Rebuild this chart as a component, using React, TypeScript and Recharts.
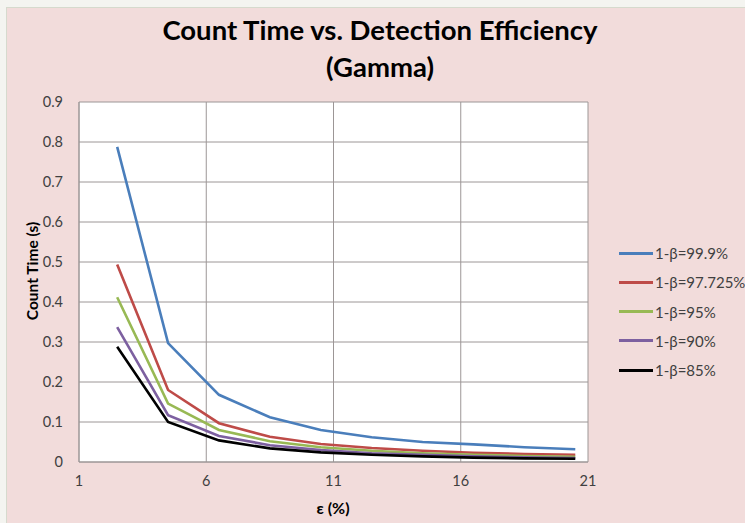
import React from 'react';
import { LineChart, Line, XAxis, YAxis, CartesianGrid } from 'recharts';

const epsilon = [2.5, 4.5, 6.5, 8.5, 10.5, 12.5, 14.5, 16.5, 18.5, 20.5];
const beta999 = [0.788, 0.297, 0.168, 0.112, 0.08, 0.062, 0.05, 0.044, 0.037, 0.032];
const beta97725 = [0.494, 0.18, 0.097, 0.063, 0.045, 0.035, 0.028, 0.023, 0.02, 0.018];
const beta95 = [0.412, 0.146, 0.08, 0.052, 0.037, 0.028, 0.022, 0.018, 0.015, 0.013];
const beta90 = [0.337, 0.117, 0.065, 0.042, 0.03, 0.022, 0.018, 0.014, 0.012, 0.01];
const beta85 = [0.288, 0.1, 0.054, 0.034, 0.024, 0.018, 0.014, 0.011, 0.009, 0.008];

const xTicks = [1, 6, 11, 16, 21];
const yTicks = [0, 0.1, 0.2, 0.3, 0.4, 0.5, 0.6, 0.7, 0.8, 0.9];

const series = [
  { key: 'b999', name: '1-β=99.9%', color: '#4a7ebb', values: beta999 },
  { key: 'b97725', name: '1-β=97.725%', color: '#be4b48', values: beta97725 },
  { key: 'b95', name: '1-β=95%', color: '#98b954', values: beta95 },
  { key: 'b90', name: '1-β=90%', color: '#7d60a0', values: beta90 },
  { key: 'b85', name: '1-β=85%', color: '#000000', values: beta85 },
];

const data = epsilon.map((e, i) => {
  const row: { [k: string]: number } = { eps: e };
  series.forEach(s => { row[s.key] = s.values[i]; });
  return row;
});

const font = 'Lato, "Open Sans", sans-serif';
const gridColor = '#9c9696';

export default function App() {
  return (
    <div style={{ position: 'absolute', left: 0, top: 0, width: 745, height: 523, background: '#f4f4f0', overflow: 'hidden', fontFamily: font }}>
      <div style={{ position: 'absolute', left: 6, top: 7, width: 745, height: 523, background: '#f2dcdb', borderLeft: '1px solid #d6dacd', borderTop: '1px solid #d6dacd' }} />
      <div style={{ position: 'absolute', left: 0, top: 11, width: 760, textAlign: 'center', fontWeight: 700, fontSize: 27.5, lineHeight: '37px', color: '#000' }}>
        Count Time vs. Detection Efficiency<br />(Gamma)
      </div>
      <div style={{ position: 'absolute', left: 0, top: 0 }}>
        <LineChart width={745} height={523} data={data} margin={{ top: 102, right: 157, bottom: 31, left: 19 }}>
          <CartesianGrid stroke={gridColor} strokeWidth={1} fill="#ffffff" />
          <XAxis
            dataKey="eps"
            type="number"
            domain={[1, 21]}
            ticks={xTicks}
            height={30}
            tickSize={0}
            tickMargin={14}
            axisLine={{ stroke: gridColor }}
            tick={{ fill: '#404040', fontSize: 14.5, fontFamily: font }}
          />
          <YAxis
            type="number"
            domain={[0, 0.9]}
            ticks={yTicks}
            width={60}
            tickSize={0}
            tickMargin={16}
            axisLine={{ stroke: gridColor }}
            tickFormatter={(v: number) => (v === 0 ? '0' : v.toFixed(1))}
            tick={{ fill: '#404040', fontSize: 14.5, fontFamily: font }}
          />
          {series.map(s => (
            <Line key={s.key} type="linear" dataKey={s.key} stroke={s.color} strokeWidth={2.6} dot={false} isAnimationActive={false} />
          ))}
        </LineChart>
      </div>
      <div style={{ position: 'absolute', left: 32, top: 271, transform: 'translate(-50%, -50%) rotate(-90deg)', fontWeight: 700, fontSize: 15.5, whiteSpace: 'nowrap', color: '#000' }}>
        Count Time (s)
      </div>
      <div style={{ position: 'absolute', left: 333, top: 507, transform: 'translate(-50%, -50%)', fontWeight: 700, fontSize: 16, whiteSpace: 'nowrap', color: '#000' }}>
        ε (%)
      </div>
      {series.map((s, i) => (
        <div key={s.key} style={{ position: 'absolute', left: 619, top: 253 + i * 29.3 - 10, height: 20, display: 'flex', alignItems: 'center', fontSize: 15, color: '#404040', whiteSpace: 'nowrap' }}>
          <span style={{ display: 'inline-block', width: 34, height: 3, background: s.color, marginRight: 2 }} />
          {s.name}
        </div>
      ))}
    </div>
  );
}
